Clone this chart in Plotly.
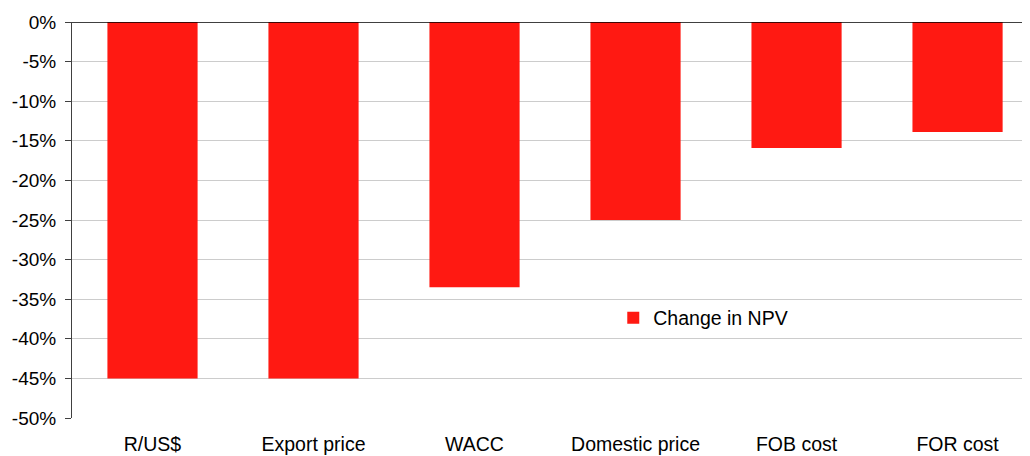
import plotly.graph_objects as go

categories = ["R/US$", "Export price", "WACC", "Domestic price", "FOB cost", "FOR cost"]
change_npv = [-0.45, -0.45, -0.335, -0.25, -0.159, -0.139]
y_ticks = [0, -0.05, -0.10, -0.15, -0.20, -0.25, -0.30, -0.35, -0.40, -0.45, -0.50]
y_labels = ["0%", "-5%", "-10%", "-15%", "-20%", "-25%", "-30%", "-35%", "-40%", "-45%", "-50%"]

fig = go.Figure()
fig.add_trace(go.Bar(
    x=list(range(len(categories))), y=change_npv, name="Change in NPV",
    marker=dict(color="#FF1912", line=dict(width=0)), width=0.56,
))

# page body has an 8px default margin, so the figure is sized/offset to compensate
fig.update_layout(
    width=1022, height=448,
    margin=dict(l=64, r=0, t=14, b=38, autoexpand=False),
    paper_bgcolor="white", plot_bgcolor="white",
    font=dict(family="Liberation Sans, Arial, sans-serif", size=19.5, color="#000000"),
    showlegend=True,
    legend=dict(x=0.565, y=0.2525, xanchor="left", yanchor="middle",
                bgcolor="rgba(0,0,0,0)", font=dict(size=19.5),
                itemwidth=30, tracegroupgap=0),
    xaxis=dict(
        tickmode="array", tickvals=list(range(len(categories))), ticktext=categories,
        range=[-0.5, 5.45], showgrid=False, zeroline=False, showline=False,
        ticks="", tickfont=dict(size=19.5), automargin=False, ticklabelstandoff=12,
    ),
    yaxis=dict(
        tickmode="array", tickvals=y_ticks, ticktext=y_labels,
        range=[-0.50, 0], showgrid=True, gridcolor="#CCCCCC", gridwidth=1,
        zeroline=False, showline=True, linecolor="#404040", linewidth=1,
        ticks="outside", ticklen=6, tickcolor="#404040", tickfont=dict(size=19),
        automargin=False, ticklabelstandoff=5,
    ),
)
fig.add_shape(type="line", xref="paper", yref="y", x0=0, x1=1, y0=0, y1=0,
              line=dict(color="#000000", width=1.5))

fig.write_html("out.html")
